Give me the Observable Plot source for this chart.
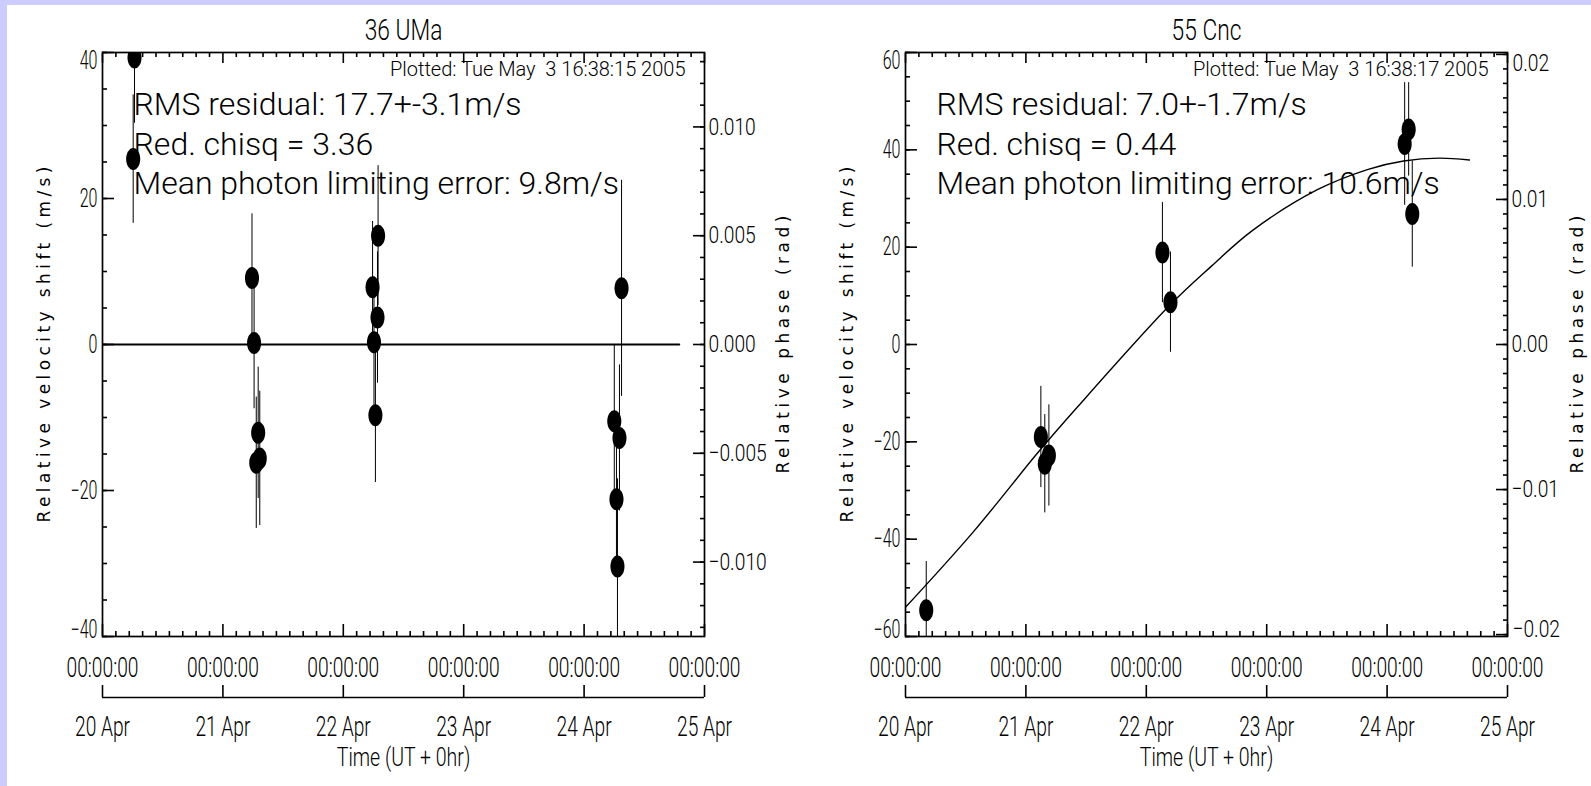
<!DOCTYPE html>
<html><head><meta charset="utf-8">
<script src="https://cdn.jsdelivr.net/npm/d3@7"></script>
<script src="https://cdn.jsdelivr.net/npm/@observablehq/plot@0.6"></script>
<style>
html,body{margin:0;padding:0;overflow:hidden;background:#ccccff;width:1591px;height:786px;}
#sheet{position:absolute;left:7px;top:5px;width:1584px;height:781px;background:#fff;}
.panel{position:absolute;top:5px;}
.panel svg{background:transparent !important;display:block;max-width:none !important;}
svg text{white-space:pre;}
</style></head><body>
<div id="sheet"></div>
<div id="p1" class="panel" style="left:7px;width:788px"></div>
<div id="p2" class="panel" style="left:795px;width:796px"></div>
<script>
// ---------- data ----------
const dayTicks = ["2005-04-20", "2005-04-21", "2005-04-22", "2005-04-23", "2005-04-24", "2005-04-25"];
const dayLabels = ["20 Apr", "21 Apr", "22 Apr", "23 Apr", "24 Apr", "25 Apr"];
const hourLabel = "00:00:00";
const xTitle = "Time (UT + 0hr)";
const yTitle = "Relative velocity shift (m/s)";
const y2Title = "Relative phase (rad)";
const PHASE_PER_MPS = 3.355e-4; // rad per m/s

// 36 UMa
const umaTime = ["2005-04-20T06:23", "2005-04-20T06:07",
  "2005-04-21T05:48", "2005-04-21T06:13", "2005-04-21T07:02", "2005-04-21T06:39", "2005-04-21T07:21",
  "2005-04-22T06:56", "2005-04-22T05:50", "2005-04-22T06:49", "2005-04-22T06:07", "2005-04-22T06:24",
  "2005-04-24T07:28", "2005-04-24T06:01", "2005-04-24T07:03", "2005-04-24T06:27", "2005-04-24T06:39"];
const umaVel = [39.3, 25.4, 9.1, 0.2, -12.1, -16.2, -15.6, 14.9, 7.85, 3.7, 0.3, -9.7, 7.7, -10.5, -12.8, -21.2, -30.4];
const umaErr = [9.0, 8.8, 8.8, 9.0, 9.0, 9.0, 9.2, 9.6, 9.0, 9.0, 9.0, 9.2, 14.8, 10.5, 10.0, 10.0, 12.0];
const umaFitTime = ["2005-04-20T00:00", "2005-04-24T18:58"];
const umaFitVel = [0, 0];
const umaVelTicks = [-40, -20, 0, 20, 40];
const umaVelLabels = ["\u221240", "\u221220", "0", "20", "40"];
const umaPhaseTicks = [-0.010, -0.005, 0, 0.005, 0.010];
const umaPhaseLabels = ["\u22120.010", "\u22120.005", "0.000", "0.005", "0.010"];
const umaStats = ["RMS residual: 17.7+-3.1m/s", "Red. chisq = 3.36", "Mean photon limiting error: 9.8m/s"];
const umaPlotted = "Plotted: Tue May  3 16:38:15 2005";

// 55 Cnc
const cncTime = ["2005-04-20T04:08", "2005-04-21T02:59", "2005-04-21T03:46", "2005-04-21T04:35",
  "2005-04-22T03:13", "2005-04-22T04:49", "2005-04-24T03:30", "2005-04-24T04:18", "2005-04-24T05:01"];
const cncVel = [-54.6, -19.0, -24.5, -22.8, 18.9, 8.7, 41.2, 44.2, 26.8];
const cncErr = [10.0, 10.4, 10.1, 10.4, 10.3, 10.3, 12.6, 9.6, 10.9];
const cncFitTime = ["2005-04-20T00:00", "2005-04-20T13:26", "2005-04-21T02:34", "2005-04-21T10:19",
  "2005-04-22T04:49", "2005-04-22T12:53", "2005-04-22T21:00", "2005-04-23T10:06", "2005-04-23T20:14",
  "2005-04-24T03:17", "2005-04-24T10:22", "2005-04-24T16:25"];
const cncFitVel = [-54.0, -38.6, -22.0, -12.8, 8.2, 16.0, 23.3, 31.8, 36.0, 37.7, 38.3, 37.9];
const cncVelTicks = [-60, -40, -20, 0, 20, 40, 60];
const cncVelLabels = ["\u221260", "\u221240", "\u221220", "0", "20", "40", "60"];
const cncPhaseTicks = [-0.02, -0.01, 0, 0.01, 0.02];
const cncPhaseLabels = ["\u22120.02", "\u22120.01", "0.00", "0.01", "0.02"];
const cncStats = ["RMS residual: 7.0+-1.7m/s", "Red. chisq = 0.44", "Mean photon limiting error: 10.6m/s"];
const cncPlotted = "Plotted: Tue May  3 16:38:17 2005";

// ---------- drawing ----------
const FONT = 'Roboto,"Liberation Sans",sans-serif';
const TFONT = '"DejaVu Sans","Liberation Sans",sans-serif';
// horizontal squeeze per font size (to mimic the narrow vector font)
const SQUEEZE = {32: 1.0, 20: 1.0, 25: 0.64, 24: 0.8, 28: 0.685, 27: 0.71, 26: 0.75, 29: 0.785};

const ellipse = {
  draw(ctx, size) {
    const ry = Math.sqrt(size / Math.PI), rx = ry * 0.64, c = 0.5523;
    ctx.moveTo(rx, 0);
    ctx.bezierCurveTo(rx, c * ry, c * rx, ry, 0, ry);
    ctx.bezierCurveTo(-c * rx, ry, -rx, c * ry, -rx, 0);
    ctx.bezierCurveTo(-rx, -c * ry, -c * rx, -ry, 0, -ry);
    ctx.bezierCurveTo(c * rx, -ry, rx, -c * ry, rx, 0);
    ctx.closePath();
  }
};

function panel(cfg) {
  const xMajor = dayTicks.map(d => new Date(d + "T00:00:00Z"));
  const xMinor = xMajor.slice(0, -1).flatMap(d => d3.range(1, 9).map(i => new Date(+d + i * 86400000 / 9)));
  const [yMin, yMax] = cfg.yDomain;
  const yMinor = d3.range(yMin, yMax + 0.001, 5);
  const pts = cfg.time.map((t, i) => ({t: new Date(t + "Z"), v: cfg.vel[i], e: cfg.err[i]}));
  const fit = cfg.fitTime.map((t, i) => ({t: new Date(t + "Z"), v: cfg.fitVel[i]}));
  const velLab = cfg.velTicks.map((v, i) => ({v, label: cfg.velLabels[i]}));
  const phLab = cfg.phaseTicks.map((p, i) => ({v: p / PHASE_PER_MPS, label: cfg.phaseLabels[i]}));
  const phMinor = d3.range(-cfg.phaseMinorN, cfg.phaseMinorN + 1).map(i => i * 0.001 / PHASE_PER_MPS);
  const dateLab = xMajor.map((d, i) => ({d, label: dayLabels[i]}));
  const empty = () => "";
  const tk = {tickFormat: empty, label: null, strokeWidth: 1.6};
  const T = (size, extra) => ({fontFamily: FONT, fontWeight: 300, fontSize: size, lineAnchor: "middle", ...extra});
  const phInner = cfg.phaseEndsInside ? phLab.slice(1, -1) : phLab;

  const marks = [
    Plot.frame({strokeWidth: 1.7}),
    // frame ticks pointing inwards
    Plot.axisX(xMinor, {...tk, anchor: "top", tickSize: 4, dy: 4}),
    Plot.axisX(xMajor, {...tk, anchor: "top", tickSize: 10, dy: 10}),
    Plot.axisX(xMinor, {...tk, anchor: "bottom", tickSize: 5, dy: -5}),
    Plot.axisX(xMajor, {...tk, anchor: "bottom", tickSize: 12, dy: -12}),
    Plot.axisY(yMinor, {...tk, anchor: "left", tickSize: 5, dx: 5}),
    Plot.axisY(cfg.velTicks, {...tk, anchor: "left", tickSize: 12, dx: 12}),
    Plot.axisY(phMinor, {...tk, anchor: "right", tickSize: 5, dx: -5}),
    Plot.axisY(phLab.map(d => d.v), {...tk, anchor: "right", tickSize: 12, dx: -12}),
    // left tick labels
    Plot.text(velLab.slice(1, -1), {y: "v", text: "label", frameAnchor: "left", dx: -5, ...T(25, {textAnchor: "end"})}),
    Plot.text(velLab.slice(-1), {y: "v", text: "label", frameAnchor: "left", dx: -5, dy: 8, ...T(25, {textAnchor: "end"})}),
    Plot.text(velLab.slice(0, 1), {y: "v", text: "label", frameAnchor: "left", dx: -5, dy: -7, ...T(25, {textAnchor: "end"})}),
    // right tick labels
    Plot.text(phInner, {y: "v", text: "label", frameAnchor: "right", dx: 4, ...T(24, {textAnchor: "start"})}),
    ...(cfg.phaseEndsInside ? [
      Plot.text(phLab.slice(-1), {y: "v", text: "label", frameAnchor: "right", dx: 5, dy: 9, ...T(24, {textAnchor: "start"})}),
      Plot.text(phLab.slice(0, 1), {y: "v", text: "label", frameAnchor: "right", dx: 5, dy: -5, ...T(24, {textAnchor: "start"})})
    ] : []),
    // lower time axis
    Plot.text(xMajor, {x: d => d, text: () => hourLabel, frameAnchor: "bottom", dy: 32, ...T(28, {textAnchor: "middle"})}),
    Plot.ruleY([yMin], {dy: 61, strokeWidth: 1.7}),
    Plot.axisX(xMajor, {...tk, anchor: "bottom", tickSize: 12, dy: 61 - 12}),
    Plot.text(dateLab, {x: "d", text: "label", frameAnchor: "bottom", dy: 91, ...T(27, {textAnchor: "middle"})}),
    Plot.text([xTitle], {frameAnchor: "bottom", dy: 121, ...T(26, {textAnchor: "middle"})}),
    // titles
    Plot.text([cfg.title], {frameAnchor: "top", dy: -22, ...T(29, {textAnchor: "middle"})}),
    Plot.text([yTitle], {frameAnchor: "left", dx: -58, rotate: -90, textAnchor: "middle", lineAnchor: "middle", fontFamily: TFONT, fontSize: 17}),
    Plot.text([y2Title], {frameAnchor: "right", dx: cfg.y2dx, rotate: -90, textAnchor: "middle", lineAnchor: "middle", fontFamily: TFONT, fontSize: 17}),
    // data
    Plot.line(fit, {x: "t", y: "v", curve: "catmull-rom", strokeWidth: cfg.fitWidth, clip: true}),
    Plot.ruleX(pts, {x: "t", y1: d => d.v - d.e, y2: d => d.v + d.e, strokeWidth: 1, clip: true}),
    Plot.dot(pts, {x: "t", y: "v", r: 11, symbol: ellipse, fill: "black", stroke: null, clip: true}),
    // annotations
    Plot.text([cfg.plotted], {frameAnchor: "top-right", dx: -19, dy: 17, ...T(20, {textAnchor: "end"})}),
    Plot.text([cfg.stats[0]], {frameAnchor: "top-left", dx: 31, dy: 104 - 52, ...T(32, {textAnchor: "start"})}),
    Plot.text([cfg.stats[1]], {frameAnchor: "top-left", dx: 31, dy: 144 - 52, ...T(32, {textAnchor: "start"})}),
    Plot.text([cfg.stats[2]], {frameAnchor: "top-left", dx: 31, dy: 183 - 52, ...T(32, {textAnchor: "start"})})
  ];

  return Plot.plot({
    width: cfg.width, height: 781,
    marginLeft: cfg.ml, marginRight: cfg.mr, marginTop: 47, marginBottom: 150,
    x: {type: "utc", domain: [xMajor[0], xMajor[xMajor.length - 1]]},
    y: {domain: cfg.yDomain},
    style: {fontFamily: FONT, color: "black", background: "transparent", overflow: "visible"},
    marks
  });
}

function squeeze(svg) {
  svg.querySelectorAll("text").forEach(t => {
    const s = t.textContent;
    if (!s.trim()) return;
    if (s.startsWith("Relative velocity")) {
      t.setAttribute("textLength", 356); t.setAttribute("lengthAdjust", "spacing"); return;
    }
    if (s.startsWith("Relative phase")) {
      t.setAttribute("textLength", 258); t.setAttribute("lengthAdjust", "spacing"); return;
    }
    const fs = Math.round(parseFloat(getComputedStyle(t).fontSize));
    const f = SQUEEZE[fs];
    if (f && f !== 1) {
      t.setAttribute("textLength", (t.getComputedTextLength() * f).toFixed(1));
      t.setAttribute("lengthAdjust", "spacingAndGlyphs");
    }
  });
}

const s1 = panel({
  title: "36 UMa", time: umaTime, vel: umaVel, err: umaErr, fitTime: umaFitTime, fitVel: umaFitVel,
  velTicks: umaVelTicks, velLabels: umaVelLabels, phaseTicks: umaPhaseTicks, phaseLabels: umaPhaseLabels,
  phaseMinorN: 13, phaseEndsInside: false, stats: umaStats, plotted: umaPlotted,
  yDomain: [-40, 40], width: 788, ml: 95, mr: 91, y2dx: 79, fitWidth: 2
});
const s2 = panel({
  title: "55 Cnc", time: cncTime, vel: cncVel, err: cncErr, fitTime: cncFitTime, fitVel: cncFitVel,
  velTicks: cncVelTicks, velLabels: cncVelLabels, phaseTicks: cncPhaseTicks, phaseLabels: cncPhaseLabels,
  phaseMinorN: 20, phaseEndsInside: true, stats: cncStats, plotted: cncPlotted,
  yDomain: [-60, 60], width: 796, ml: 110, mr: 84, y2dx: 70, fitWidth: 1.4
});
document.getElementById("p1").appendChild(s1);
document.getElementById("p2").appendChild(s2);
squeeze(s1);
squeeze(s2);
</script></body></html>
